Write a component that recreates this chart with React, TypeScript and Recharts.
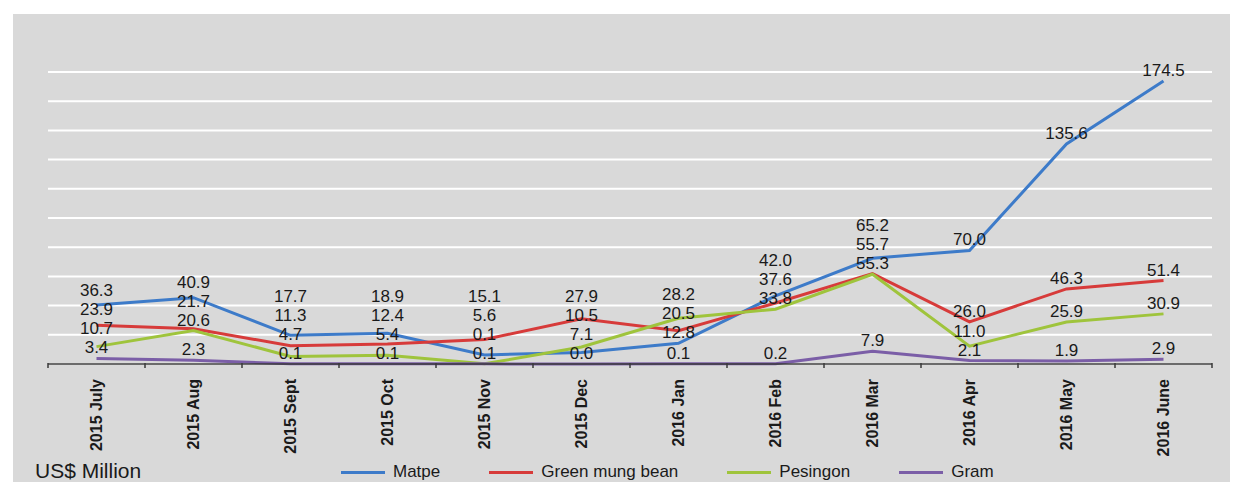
import { LineChart, Line, XAxis, YAxis, CartesianGrid, Legend, LabelList } from 'recharts';

const months = [
  '2015 July', '2015 Aug', '2015 Sept', '2015 Oct', '2015 Nov', '2015 Dec',
  '2016 Jan', '2016 Feb', '2016 Mar', '2016 Apr', '2016 May', '2016 June',
];
const matpe = [36.3, 40.9, 17.7, 18.9, 5.6, 7.1, 12.8, 42.0, 65.2, 70.0, 135.6, 174.5];
const greenMungBean = [23.9, 21.7, 11.3, 12.4, 15.1, 27.9, 20.5, 37.6, 55.7, 26.0, 46.3, 51.4];
const pesingon = [10.7, 20.6, 4.7, 5.4, 0.1, 10.5, 28.2, 33.8, 55.3, 11.0, 25.9, 30.9];
const gram = [3.4, 2.3, 0.1, 0.1, 0.1, 0.0, 0.1, 0.2, 7.9, 2.1, 1.9, 2.9];
const yTicks = [0, 18, 36, 54, 72, 90, 108, 126, 144, 162, 180];

const series = [
  { key: 'matpe', name: 'Matpe', color: '#3d7bc9', values: matpe },
  { key: 'greenMungBean', name: 'Green mung bean', color: '#d73b3a', values: greenMungBean },
  { key: 'pesingon', name: 'Pesingon', color: '#9fc43c', values: pesingon },
  { key: 'gram', name: 'Gram', color: '#7b5ea7', values: gram },
];

const data = months.map((month, i) => {
  const row: Record<string, any> = { month };
  series.forEach((s) => (row[s.key] = s.values[i]));
  return row;
});

const W = 1234;
const H = 482;
const M = { top: 72, right: 22, bottom: 0, left: 48 };
const X_AXIS_H = 118;
const PLOT_W = W - M.left - M.right;
const PLOT_H = H - M.top - M.bottom - X_AXIS_H;
const BAND = PLOT_W / months.length;
const FONT = '"Liberation Sans", Arial, sans-serif';

// stack the labels of one month so they don't sit on top of each other
const labelY = (si: number, i: number, py: number) => {
  const pxPerUnit = PLOT_H / yTicks[yTicks.length - 1];
  const order = series
    .map((s, k) => ({ k, v: s.values[i] }))
    .sort((a, b) => a.v - b.v || b.k - a.k);
  let prev = Infinity;
  for (const o of order) {
    const oy = py + (series[si].values[i] - o.v) * pxPerUnit;
    const ly = Math.min(oy - 11, prev - 19);
    if (o.k === si) return ly;
    prev = ly;
  }
  return py - 11;
};

const makeLabel = (si: number) => (props: any) => {
  const { x, y, value, index } = props;
  return (
    <text x={x} y={labelY(si, index, y)} dy="0.35em" textAnchor="middle" fontSize={17} fontFamily={FONT} fill="#1a1a1a">
      {Number(value).toFixed(1)}
    </text>
  );
};

const MonthTick = (props: any) => {
  const { x, y, payload, index } = props;
  return (
    <g>
      <line x1={x - BAND / 2} x2={x - BAND / 2} y1={y - 1} y2={y + 4} stroke="#3a3a3a" strokeWidth={1.5} />
      {index === months.length - 1 && (
        <line x1={x + BAND / 2} x2={x + BAND / 2} y1={y - 1} y2={y + 4} stroke="#3a3a3a" strokeWidth={1.5} />
      )}
      <g transform={`translate(${x},${y + 15})`}>
        <text transform="rotate(-90)" textAnchor="end" dy="0.35em" fontSize={16} fontWeight="bold" fontFamily={FONT} fill="#1a1a1a">
          {payload.value}
        </text>
      </g>
    </g>
  );
};

const LegendContent = () => (
  <div style={{ position: 'relative', height: 20, fontFamily: FONT }}>
    <div style={{ position: 'absolute', left: 35, top: -3, fontSize: 21, color: '#1a1a1a', whiteSpace: 'nowrap' }}>US$ Million</div>
    <div style={{ position: 'absolute', left: 341, top: 0, display: 'flex', alignItems: 'center', gap: 49, fontSize: 17, color: '#1a1a1a', whiteSpace: 'nowrap' }}>
      {series.map((s) => (
        <div key={s.key} style={{ display: 'flex', alignItems: 'center' }}>
          <div style={{ width: 44, height: 3, background: s.color, marginRight: 8 }} />
          <span>{s.name}</span>
        </div>
      ))}
    </div>
  </div>
);

export default function App() {
  return (
    <div style={{ position: 'absolute', left: 0, top: 0, width: W, height: H, background: '#fff', overflow: 'hidden' }}>
      <div style={{ position: 'absolute', left: 13, top: 14, width: 1217, height: 468, background: '#d9d9d9' }} />
      <div style={{ position: 'absolute', left: 0, top: 0 }}>
        <LineChart width={W} height={H} data={data} margin={M}>
          <CartesianGrid vertical={false} stroke="#ffffff" strokeWidth={2} />
          <XAxis
            dataKey="month"
            scale="band"
            interval={0}
            height={X_AXIS_H}
            tickSize={0}
            tickMargin={0}
            tickLine={false}
            axisLine={{ stroke: '#3a3a3a', strokeWidth: 1.5 }}
            tick={<MonthTick />}
          />
          <YAxis hide domain={[0, 180]} ticks={yTicks} />
          {series.map((s, si) => (
            <Line
              key={s.key}
              dataKey={s.key}
              name={s.name}
              type="linear"
              stroke={s.color}
              strokeWidth={3}
              dot={false}
              isAnimationActive={false}
            >
              <LabelList dataKey={s.key} content={makeLabel(si)} />
            </Line>
          ))}
          <Legend
            layout="horizontal"
            verticalAlign="middle"
            align="center"
            content={<LegendContent />}
            wrapperStyle={{ top: 462, left: 0, width: W, height: 20 }}
          />
        </LineChart>
      </div>
    </div>
  );
}
